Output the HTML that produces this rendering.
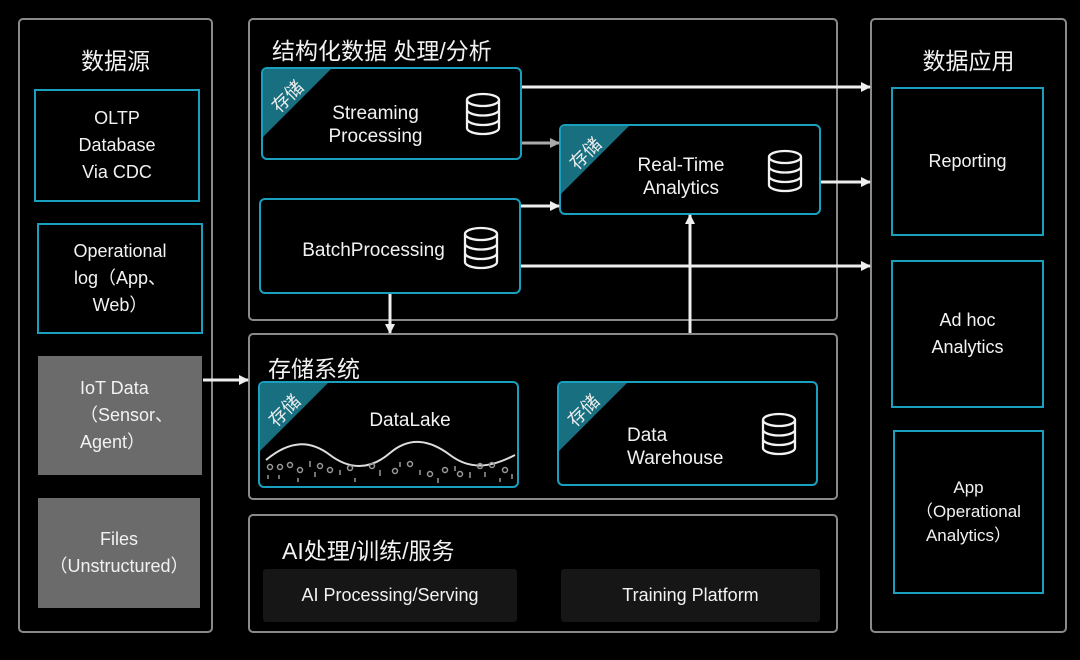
<!DOCTYPE html>
<html><head><meta charset="utf-8"><style>
*{box-sizing:border-box;margin:0;padding:0}
body{width:1080px;height:660px;background:#000;position:relative;overflow:hidden;font-family:"Liberation Sans","Noto Sans CJK SC",sans-serif;color:#f2f2f2}
.a{position:absolute}
.panel{position:absolute;border:2px solid #8a8a8a;border-radius:5px}
.box{position:absolute;border:2px solid #1aa0bf;display:flex;align-items:center;justify-content:center;text-align:center;font-size:18px;line-height:27px}
.rb{position:absolute;border:2px solid #1aa0bf;border-radius:6px;overflow:hidden}
.gray{position:absolute;background:#6b6b6b;display:flex;align-items:center;justify-content:center;font-size:18px;line-height:27px}
.title{position:absolute;font-size:23px}
.tag{position:absolute;left:0;top:0;width:0;height:0;border-top:68px solid #186f80;border-right:68px solid transparent}
.tagt{position:absolute;left:6px;top:14px;font-size:18px;transform:rotate(-45deg);color:#eee}
.lbl{position:absolute;font-size:19px;line-height:23px;text-align:center}
.sub{position:absolute;background:#161616;border-radius:3px;font-size:18px;display:flex;align-items:center;justify-content:center}
</style></head><body>
<div class="panel" style="left:18px;top:18px;width:195px;height:615px"></div>
<div class="title" style="left:18px;width:195px;text-align:center;top:42px">数据源</div>
<div class="box" style="left:34px;top:89px;width:166px;height:113px">OLTP<br>Database<br>Via CDC</div>
<div class="box" style="left:37px;top:223px;width:166px;height:111px">Operational<br>log（App、<br>Web）</div>
<div class="gray" style="left:38px;top:356px;width:164px;height:119px;justify-content:flex-start;padding-left:42px;text-align:left">IoT Data<br>（Sensor、<br>Agent）</div>
<div class="gray" style="left:38px;top:498px;width:162px;height:110px;text-align:center">Files<br>（Unstructured）</div>

<div class="panel" style="left:248px;top:18px;width:590px;height:303px"></div>
<div class="title" style="left:272px;top:32px">结构化数据 处理/分析</div>
<div class="panel" style="left:248px;top:333px;width:590px;height:167px"></div>
<div class="title" style="left:268px;top:350px">存储系统</div>
<div class="panel" style="left:248px;top:514px;width:590px;height:119px"></div>
<div class="title" style="left:282px;top:532px">AI处理/训练/服务</div>
<div class="sub" style="left:263px;top:569px;width:254px;height:53px">AI Processing/Serving</div>
<div class="sub" style="left:561px;top:569px;width:259px;height:53px">Training Platform</div>

<div class="panel" style="left:870px;top:18px;width:197px;height:615px"></div>
<div class="title" style="left:870px;width:197px;text-align:center;top:42px">数据应用</div>
<div class="box" style="left:891px;top:87px;width:153px;height:149px">Reporting</div>
<div class="box" style="left:891px;top:260px;width:153px;height:148px">Ad hoc<br>Analytics</div>
<div class="box" style="left:893px;top:430px;width:151px;height:164px;font-size:17px;line-height:24px">App<br>（Operational<br>Analytics）</div>

<div class="rb" style="left:261px;top:67px;width:261px;height:93px"><div class="tag"></div><div class="tagt">存储</div>
<div class="lbl" style="left:40px;width:145px;top:33px">Streaming<br>Processing</div></div>
<div class="rb" style="left:559px;top:124px;width:262px;height:91px"><div class="tag"></div><div class="tagt">存储</div>
<div class="lbl" style="left:50px;width:140px;top:28px">Real-Time<br>Analytics</div></div>
<div class="rb" style="left:259px;top:198px;width:262px;height:96px">
<div class="lbl" style="left:30px;width:165px;top:39px">BatchProcessing</div></div>
<div class="rb" style="left:258px;top:381px;width:261px;height:107px"><div class="tag"></div><div class="tagt">存储</div>
<div class="lbl" style="left:90px;width:120px;top:26px">DataLake</div></div>
<div class="rb" style="left:557px;top:381px;width:261px;height:105px"><div class="tag"></div><div class="tagt">存储</div>
<div class="lbl" style="left:68px;top:41px;text-align:left">Data<br>Warehouse</div></div>

<svg class="a" style="left:0;top:0" width="1080" height="660">
<defs>
<marker id="w" markerWidth="10" markerHeight="10" refX="9" refY="5" orient="auto" markerUnits="userSpaceOnUse"><path d="M0,0 L10,5 L0,10z" fill="#eee"/></marker>
<marker id="g" markerWidth="10" markerHeight="10" refX="9" refY="5" orient="auto" markerUnits="userSpaceOnUse"><path d="M0,0 L10,5 L0,10z" fill="#aaa"/></marker>
<g id="db" fill="none" stroke="#f2f2f2" stroke-width="2.3"><ellipse cx="0" cy="-14" rx="16" ry="6"/><path d="M-16,-14 V14 A16,6 0 0 0 16,14 V-14 M-16,-4.5 A16,6 0 0 0 16,-4.5 M-16,5 A16,6 0 0 0 16,5"/></g>
</defs>
<g stroke-width="3">
<line x1="522" y1="87" x2="870" y2="87" stroke="#eee" marker-end="url(#w)"/>
<line x1="522" y1="143" x2="559" y2="143" stroke="#aaa" marker-end="url(#g)"/>
<line x1="521" y1="206" x2="559" y2="206" stroke="#eee" marker-end="url(#w)"/>
<line x1="821" y1="182" x2="870" y2="182" stroke="#eee" marker-end="url(#w)"/>
<line x1="521" y1="266" x2="870" y2="266" stroke="#eee" marker-end="url(#w)"/>
<line x1="390" y1="294" x2="390" y2="333" stroke="#eee" marker-end="url(#w)"/>
<line x1="690" y1="333" x2="690" y2="215" stroke="#eee" marker-end="url(#w)"/>
<line x1="203" y1="380" x2="248" y2="380" stroke="#eee" marker-end="url(#w)"/>
</g>
<use href="#db" x="483" y="114"/>
<use href="#db" x="785" y="171"/>
<use href="#db" x="481" y="248"/>
<use href="#db" x="779" y="434"/>
<path d="M266,460 C290,440 310,440 330,455 C350,470 370,470 390,453 C410,436 430,440 450,455 C470,470 490,468 515,455" fill="none" stroke="#ddd" stroke-width="2"/>
<g fill="none" stroke="#999" stroke-width="1.5">
<circle cx="270" cy="467" r="2.5"/><circle cx="280" cy="467" r="2.5"/><circle cx="290" cy="465" r="2.5"/><circle cx="300" cy="470" r="2.5"/><circle cx="320" cy="466" r="2.5"/><circle cx="330" cy="470" r="2.5"/><circle cx="350" cy="468" r="2.5"/><circle cx="372" cy="466" r="2.5"/><circle cx="395" cy="471" r="2.5"/><circle cx="410" cy="464" r="2.5"/><circle cx="430" cy="474" r="2.5"/><circle cx="445" cy="470" r="2.5"/><circle cx="460" cy="474" r="2.5"/><circle cx="480" cy="466" r="2.5"/><circle cx="492" cy="465" r="2.5"/><circle cx="505" cy="470" r="2.5"/>
<path d="M268,475v4M279,475v4M298,478v4M310,461v6M315,472v5M340,470v5M355,478v4M380,470v6M400,462v5M420,470v5M438,478v5M455,466v5M470,472v6M485,472v5M500,478v4M512,474v5"/>
</g>
</svg>
</body></html>
